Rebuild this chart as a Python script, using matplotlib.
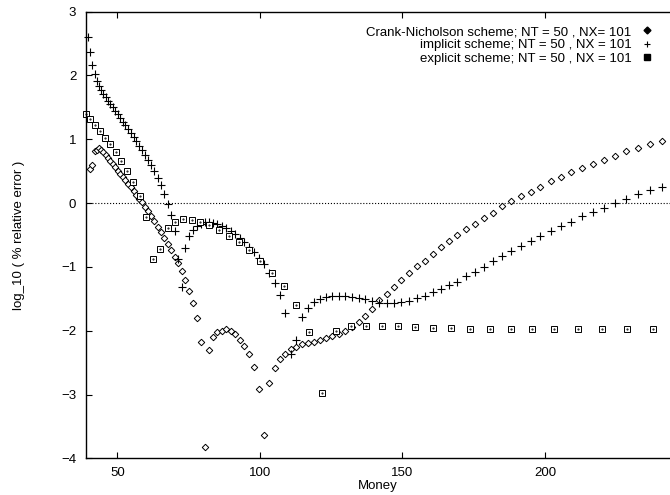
import numpy as np
import matplotlib.pyplot as plt
from matplotlib.lines import Line2D

plt.rcParams['font.family'] = ['Liberation Sans', 'DejaVu Sans']
plt.rcParams['font.size'] = 9.5

# fine grid (Crank-Nicholson and implicit)
money_fine = [
    39.83, 40.54, 41.26, 41.99, 42.74, 43.50, 44.28, 45.07, 45.87, 46.69,
    47.52, 48.36, 49.22, 50.10, 50.99, 51.90, 52.82, 53.76, 54.72, 55.70,
    56.69, 57.70, 58.72, 59.77, 60.83, 61.92, 63.02, 64.14, 65.29, 66.45,
    67.63, 68.84, 70.06, 71.31, 72.58, 73.87, 75.19, 76.53, 77.89, 79.28,
    80.69, 82.13, 83.59, 85.08, 86.59, 88.13, 89.70, 91.30, 92.93, 94.58,
    96.27, 97.98, 99.72, 101.50, 103.31, 105.15, 107.02, 108.93, 110.87, 112.84,
    114.85, 116.89, 118.97, 121.09, 123.25, 125.44, 127.67, 129.94, 132.26, 134.61,
    137.01, 139.45, 141.93, 144.46, 147.03, 149.65, 152.31, 155.02, 157.78, 160.59,
    163.45, 166.36, 169.32, 172.33, 175.40, 178.52, 181.70, 184.93, 188.22, 191.57,
    194.98, 198.45, 201.98, 205.58, 209.24, 212.96, 216.75, 220.61, 224.54, 228.54,
    232.61, 236.75, 240.96]

crank_nicholson = [
    np.nan, 0.53, 0.59, 0.81, 0.84, 0.86, 0.84, 0.80, 0.75, 0.71,
    0.66, 0.61, 0.56, 0.51, 0.46, 0.41, 0.36, 0.30, 0.25, 0.19,
    0.13, 0.07, 0.01, -0.06, -0.13, -0.20, -0.28, -0.37, -0.46, -0.55,
    -0.64, -0.74, -0.84, -0.94, -1.06, -1.21, -1.38, -1.56, -1.80, -2.18,
    -3.83, -2.31, -2.10, -2.02, -2.00, -1.98, -2.00, -2.05, -2.14, -2.24,
    -2.37, -2.57, -2.92, -3.63, -2.82, -2.58, -2.44, -2.36, -2.29, -2.26,
    -2.21, -2.19, -2.17, -2.14, -2.12, -2.09, -2.05, -2.00, -1.94, -1.86,
    -1.77, -1.66, -1.52, -1.42, -1.32, -1.21, -1.10, -0.99, -0.90, -0.79,
    -0.69, -0.60, -0.50, -0.41, -0.32, -0.23, -0.15, -0.05, 0.03, 0.11,
    0.18, 0.26, 0.34, 0.41, 0.48, 0.55, 0.62, 0.68, 0.74, 0.81,
    0.86, 0.92, 0.98]

implicit = [
    2.60, 2.37, 2.17, 2.03, 1.92, 1.84, 1.77, 1.71, 1.66, 1.60,
    1.55, 1.50, 1.44, 1.39, 1.33, 1.27, 1.22, 1.16, 1.10, 1.03,
    0.97, 0.90, 0.83, 0.75, 0.67, 0.59, 0.50, 0.40, 0.29, 0.15,
    -0.01, -0.18, -0.44, -0.87, -1.31, -0.70, -0.52, -0.42, -0.36, -0.32,
    -0.30, -0.30, -0.31, -0.33, -0.36, -0.39, -0.43, -0.48, -0.54, -0.61,
    -0.69, -0.77, -0.86, -0.96, -1.09, -1.25, -1.44, -1.72, -2.36, -2.14,
    -1.79, -1.64, -1.55, -1.50, -1.47, -1.46, -1.46, -1.46, -1.47, -1.49,
    -1.51, -1.53, -1.56, -1.57, -1.56, -1.55, -1.53, -1.49, -1.45, -1.39,
    -1.34, -1.29, -1.23, -1.15, -1.08, -1.00, -0.91, -0.83, -0.75, -0.67,
    -0.60, -0.52, -0.44, -0.36, -0.29, -0.21, -0.14, -0.07, 0.00, 0.07,
    0.14, 0.20, 0.26]

# coarse grid (explicit)
money_coarse = [
    39.00, 40.56, 42.19, 43.88, 45.64, 47.47, 49.38, 51.36, 53.42, 55.56,
    57.79, 60.10, 62.51, 65.02, 67.63, 70.34, 73.16, 76.09, 79.14, 82.32,
    85.62, 89.05, 92.62, 96.33, 100.20, 104.21, 108.39, 112.74, 117.26, 121.96,
    126.85, 131.94, 137.23, 142.73, 148.45, 154.40, 160.59, 167.03, 173.73, 180.69,
    187.94, 195.47, 203.31, 211.46, 219.94, 228.76, 237.93]

explicit = [
    1.40, 1.32, 1.23, 1.13, 1.02, 0.92, 0.80, 0.66, 0.51, 0.33,
    0.11, -0.22, -0.88, -0.72, -0.39, -0.29, -0.25, -0.26, -0.30, -0.35,
    -0.42, -0.51, -0.61, -0.74, -0.91, -1.09, -1.30, -1.59, -2.02, -2.98,
    -2.00, -1.93, -1.93, -1.92, -1.93, -1.94, -1.96, -1.96, -1.97, -1.98,
    -1.98, -1.98, -1.98, -1.98, -1.98, -1.98, -1.98]

labels = ['Crank-Nicholson scheme; NT = 50 , NX= 101',
          'implicit scheme; NT = 50 , NX = 101',
          'explicit scheme; NT = 50 , NX = 101']

fig = plt.figure(figsize=(6.7, 4.95), dpi=100)
ax = fig.add_axes([0.1284, 0.0741, 0.8716, 0.9023])

ax.axhline(0, color='black', linestyle=':', linewidth=0.8)

ax.plot(money_fine, crank_nicholson, linestyle='none', marker='D', markersize=3.3,
        markerfacecolor='white', markeredgecolor='black', markeredgewidth=0.7, clip_on=False)
ax.plot(money_fine, implicit, linestyle='none', marker='+', markersize=5.5,
        color='black', markeredgewidth=0.8, clip_on=False)
ax.plot(money_coarse, explicit, linestyle='none', marker='s', markersize=5,
        markerfacecolor='white', markeredgecolor='black', markeredgewidth=0.7, clip_on=False)
ax.plot(money_coarse, explicit, linestyle='none', marker='.', markersize=1,
        color='black', clip_on=False)

handles = [Line2D([], [], linestyle='none', marker='D', markersize=3.5, color='black'),
           Line2D([], [], linestyle='none', marker='+', markersize=4.5, color='black', markeredgewidth=0.8),
           Line2D([], [], linestyle='none', marker='s', markersize=4, color='black')]
ax.legend(handles, labels, loc='upper right', bbox_to_anchor=(0.993, 0.995),
          frameon=False, markerfirst=False, handlelength=1.0, handletextpad=0.7,
          labelspacing=0.08, fontsize=9.5)

ax.set_xlim(39, 243.9)
ax.set_ylim(-4, 3)
ax.set_xticks([50, 100, 150, 200])
ax.set_yticks([-4, -3, -2, -1, 0, 1, 2, 3])
ax.tick_params(direction='in', length=4.5, width=0.8, top=True, right=False, pad=6)
ax.tick_params(axis='y', pad=7)
ax.spines['right'].set_visible(False)
for s in ['left', 'bottom', 'top']:
    ax.spines[s].set_linewidth(1.0)

ax.set_xlabel('Money', labelpad=1)
ax.set_ylabel('log_10 ( % relative error )', labelpad=26)

fig.savefig('out.png', dpi=100)
